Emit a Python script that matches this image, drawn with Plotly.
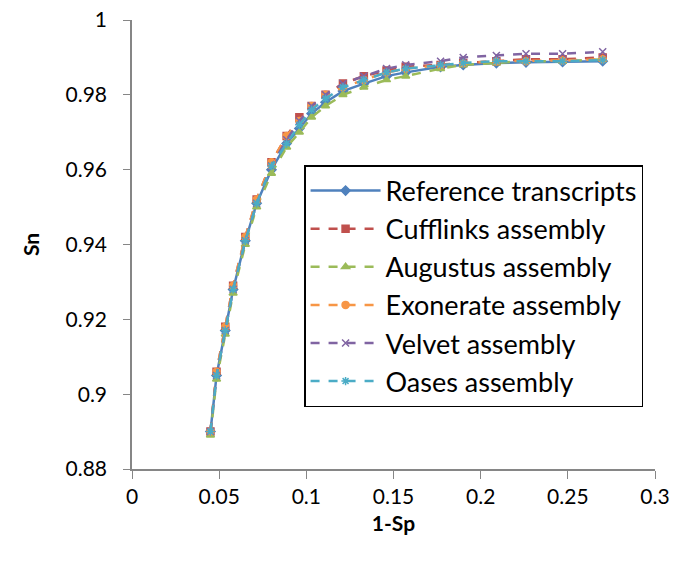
import plotly.graph_objects as go

x_vals = [0.045, 0.0485, 0.0535, 0.058, 0.065, 0.0715, 0.08, 0.0887, 0.096, 0.103, 0.111,
          0.121, 0.133, 0.146, 0.157, 0.177, 0.190, 0.209, 0.226, 0.247, 0.270]

ref_y = [0.890, 0.905, 0.917, 0.928, 0.941, 0.951, 0.960, 0.967, 0.971, 0.975, 0.978,
         0.981, 0.983, 0.985, 0.986, 0.9875, 0.988, 0.9885, 0.9887, 0.9888, 0.989]
cuff_y = [0.890, 0.906, 0.918, 0.929, 0.942, 0.952, 0.962, 0.969, 0.974, 0.977, 0.980,
          0.983, 0.985, 0.9865, 0.9875, 0.988, 0.9885, 0.989, 0.9895, 0.9895, 0.990]
aug_y = [0.889, 0.904, 0.916, 0.927, 0.940, 0.950, 0.959, 0.966, 0.970, 0.974, 0.977,
         0.980, 0.982, 0.984, 0.985, 0.987, 0.988, 0.9885, 0.989, 0.989, 0.9895]
exo_y = [0.890, 0.906, 0.918, 0.929, 0.942, 0.952, 0.962, 0.969, 0.973, 0.977, 0.980,
         0.982, 0.984, 0.986, 0.987, 0.988, 0.9885, 0.989, 0.989, 0.9892, 0.9895]
vel_y = [0.890, 0.905, 0.917, 0.928, 0.941, 0.951, 0.961, 0.968, 0.973, 0.977, 0.980,
         0.983, 0.985, 0.987, 0.988, 0.989, 0.990, 0.9905, 0.991, 0.991, 0.9915]
oas_y = [0.890, 0.905, 0.917, 0.928, 0.941, 0.951, 0.961, 0.967, 0.972, 0.976, 0.979,
         0.982, 0.984, 0.986, 0.987, 0.988, 0.9885, 0.989, 0.989, 0.989, 0.9893]

series = [
    ("Reference transcripts", ref_y, "#4F81BD", "solid", "diamond"),
    ("Cufflinks assembly", cuff_y, "#C0504D", "dash", "square"),
    ("Augustus assembly", aug_y, "#9BBB59", "dash", "triangle-up"),
    ("Exonerate assembly", exo_y, "#F79646", "dash", "circle"),
    ("Velvet assembly", vel_y, "#8064A2", "dash", "x-thin-open"),
    ("Oases assembly", oas_y, "#4BACC6", "dash", "asterisk-open"),
]

fig = go.Figure()
for name, ys, color, dash, sym in series:
    fig.add_trace(go.Scatter(
        x=x_vals, y=ys, name=name, mode="lines+markers",
        line=dict(color=color, width=2.5, dash=dash),
        marker=dict(symbol=sym, size=7, color=color, line=dict(color=color, width=1.5)),
    ))

font_family = "Lato, 'Open Sans', sans-serif"
fig.update_layout(
    width=678, height=571,
    margin=dict(l=132, r=23, t=20, b=102, autoexpand=False),
    paper_bgcolor="white", plot_bgcolor="white",
    font=dict(family=font_family, size=21, color="black"),
    legend=dict(
        x=0.329, y=0.677, xanchor="left", yanchor="top",
        bgcolor="white", bordercolor="black", borderwidth=1.5,
        font=dict(size=27, color="black"),
        tracegroupgap=0, itemwidth=70,
    ),
    xaxis=dict(
        range=[0, 0.3], tickvals=[0, 0.05, 0.1, 0.15, 0.2, 0.25, 0.3],
        ticktext=["0", "0.05", "0.1", "0.15", "0.2", "0.25", "0.3"],
        showline=True, linecolor="#868686", linewidth=1.5, automargin=False,
        ticks="outside", ticklen=8, tickcolor="#868686", showgrid=False, zeroline=False,
        title=dict(text="<b>1-Sp</b>", font=dict(size=21), standoff=9),
    ),
    yaxis=dict(
        range=[0.88, 1.0], tickvals=[0.88, 0.9, 0.92, 0.94, 0.96, 0.98, 1.0],
        ticktext=["0.88", "0.9", "0.92", "0.94", "0.96", "0.98", "1"],
        showline=True, linecolor="#868686", linewidth=1.5, automargin=False,
        ticks="outside", ticklen=7, tickcolor="#868686", showgrid=False, zeroline=False,
        ticklabelstandoff=12,
        title=dict(text="<b>Sn</b>", font=dict(size=21), standoff=20),
    ),
)

fig.write_html("out.html")
